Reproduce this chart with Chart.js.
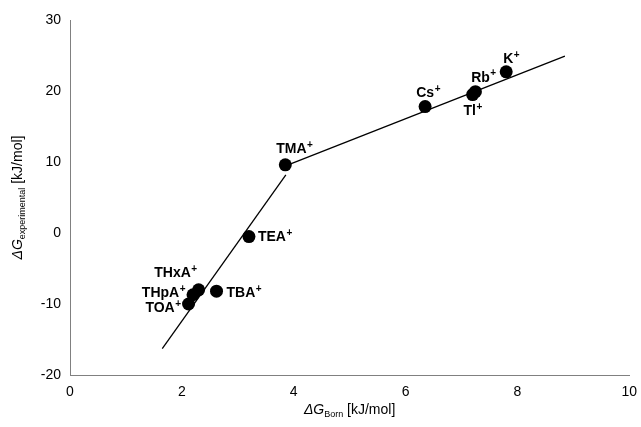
<!DOCTYPE html>
<html>
<head>
<meta charset="utf-8">
<script src="https://cdn.jsdelivr.net/npm/chart.js@4.4.1/dist/chart.umd.min.js"></script>
<style>
  html, body { margin: 0; padding: 0; background: #fff; }
  #wrap { width: 641px; height: 427px; }
</style>
</head>
<body>
<div id="wrap"><canvas id="c"></canvas></div>
<script>
// data
var ions   = ["TOA", "THpA", "THxA", "TBA", "TEA", "TMA", "Cs", "Tl", "Rb", "K"];
var gBorn  = [2.12, 2.2, 2.3, 2.62, 3.2, 3.85, 6.35, 7.2, 7.25, 7.8];
var gExp   = [-10.0, -8.7, -8.0, -8.2, -0.5, 9.6, 17.8, 19.5, 19.9, 22.7];
var fitLowX  = [1.65, 3.86];
var fitLowY  = [-16.3, 8.2];
var fitHighX = [3.9, 8.85];
var fitHighY = [9.6, 24.9];
var xTicks = [0, 2, 4, 6, 8, 10];
var yTicks = [-20, -10, 0, 10, 20, 30];

// label offsets [dx, dy, align]
var labelPos = {
    TOA:  [-8, 4, "right"],
    THpA: [-8, -2, "right"],
    THxA: [-2, -17, "right"],
    TBA:  [10, 2, "left"],
    TEA:  [9, 1, "left"],
    TMA:  [9, -16, "center"],
    Cs:   [3, -13, "center"],
    Tl:   [0, 17, "center"],
    Rb:   [8, -14, "center"],
    K:    [5, -13, "center"]
};

function pts(xs, ys) {
    return xs.map(function (x, i) { return {x: x, y: ys[i]}; });
}

var labelPlugin = {
    id: "labels",
    afterDatasetsDraw: function (chart) {
        var ctx = chart.ctx, xs = chart.scales.x, ys = chart.scales.y;
        ctx.save();
        ctx.fillStyle = "#000";
        ctx.textBaseline = "middle";
        ions.forEach(function (name, i) {
            var p = labelPos[name];
            var px = xs.getPixelForValue(gBorn[i]) + p[0];
            var py = ys.getPixelForValue(gExp[i]) + p[1];
            ctx.font = "bold 14px Arial, 'Liberation Sans'";
            var w1 = ctx.measureText(name).width;
            ctx.font = "bold 10px Arial, 'Liberation Sans'";
            var w2 = ctx.measureText("+").width;
            var total = w1 + w2;
            var x0 = p[2] === "right" ? px - total : (p[2] === "center" ? px - total / 2 : px);
            ctx.textAlign = "left";
            ctx.font = "bold 14px Arial, 'Liberation Sans'";
            ctx.fillText(name, x0, py);
            ctx.font = "bold 10px Arial, 'Liberation Sans'";
            ctx.fillText("+", x0 + w1 + 0.5, py - 4);
        });

        // axis titles
        ctx.textAlign = "left";
        ctx.textBaseline = "alphabetic";
        var parts = [["\u0394", "italic 14px Arial, 'Liberation Sans'", 0],
                     ["G", "italic 14px Arial, 'Liberation Sans'", 0],
                     ["Born", "9px Arial, 'Liberation Sans'", 3],
                     [" [kJ/mol]", "14px Arial, 'Liberation Sans'", 0]];
        function width(list) {
            var w = 0;
            list.forEach(function (p) { ctx.font = p[1]; w += ctx.measureText(p[0]).width; });
            return w;
        }
        function draw(list, x, y) {
            list.forEach(function (p) {
                ctx.font = p[1];
                ctx.fillText(p[0], x, y + p[2]);
                x += ctx.measureText(p[0]).width;
            });
        }
        var cx = (xs.left + xs.right) / 2;
        draw(parts, cx - width(parts) / 2, 414);

        var yparts = [["\u0394", "italic 14px Arial, 'Liberation Sans'", 0],
                      ["G", "italic 14px Arial, 'Liberation Sans'", 0],
                      ["experimental", "9px Arial, 'Liberation Sans'", 3],
                      [" [kJ/mol]", "14px Arial, 'Liberation Sans'", 0]];
        ctx.translate(22, (ys.top + ys.bottom) / 2);
        ctx.rotate(-Math.PI / 2);
        draw(yparts, -width(yparts) / 2, 0);
        ctx.restore();
    }
};

new Chart(document.getElementById("c"), {
    type: "scatter",
    data: {
        datasets: [
            {
                data: pts(gBorn, gExp),
                backgroundColor: "#000",
                borderColor: "#000",
                borderWidth: 0,
                pointRadius: 6.5,
                order: 0
            },
            {
                data: pts(fitLowX, fitLowY),
                showLine: true,
                borderColor: "#000",
                borderWidth: 1.3,
                pointRadius: 0,
                order: 1
            },
            {
                data: pts(fitHighX, fitHighY),
                showLine: true,
                borderColor: "#000",
                borderWidth: 1.3,
                pointRadius: 0,
                order: 1
            }
        ]
    },
    options: {
        responsive: true,
        maintainAspectRatio: false,
        animation: false,
        layout: { padding: { top: 20, right: 11, left: 0, bottom: 0 } },
        plugins: { legend: { display: false }, tooltip: { enabled: false } },
        scales: {
            x: {
                type: "linear",
                min: 0, max: 10,
                afterFit: function (s) { s.height = 52; },
                afterBuildTicks: function (s) { s.ticks = xTicks.map(function (v) { return {value: v}; }); },
                grid: { display: false, drawTicks: true, tickLength: 5, color: "#808080" },
                border: { color: "#808080", width: 1 },
                ticks: { color: "#000", font: { family: "Arial, 'Liberation Sans'", size: 14 }, padding: 4 }
            },
            y: {
                type: "linear",
                min: -20, max: 30,
                afterFit: function (s) { s.width = 70; },
                afterBuildTicks: function (s) { s.ticks = yTicks.map(function (v) { return {value: v}; }); },
                grid: { display: false, drawTicks: true, tickLength: 5, color: "#808080" },
                border: { color: "#808080", width: 1 },
                ticks: { color: "#000", font: { family: "Arial, 'Liberation Sans'", size: 14 }, padding: 4 }
            }
        }
    },
    plugins: [labelPlugin]
});
</script>
</body>
</html>
